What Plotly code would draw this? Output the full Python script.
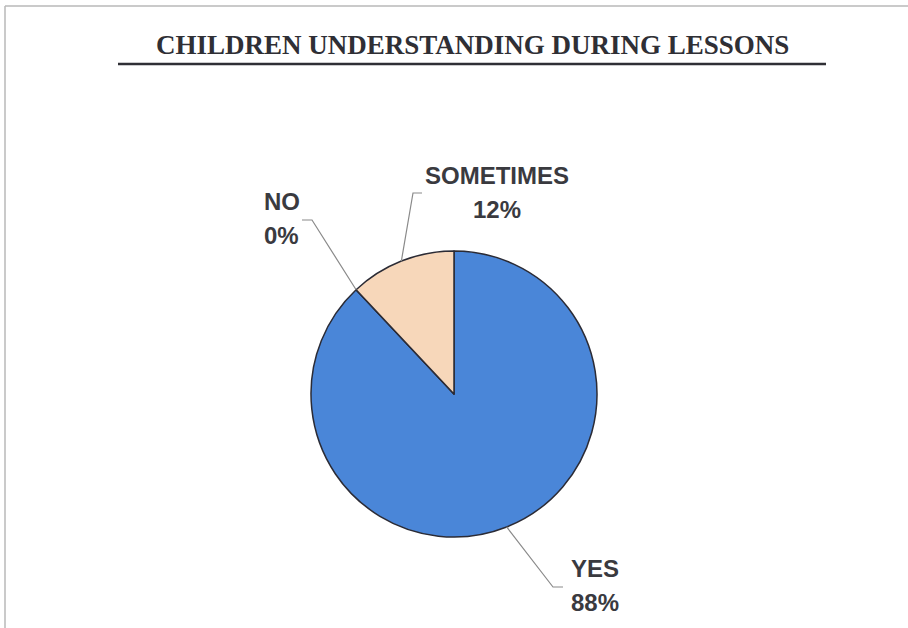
import math
import plotly.graph_objects as go

# Survey responses
categories = ["YES", "NO", "SOMETIMES"]
values = [88, 0, 12]
percent_text = ["88%", "0%", "12%"]
colors = ["#4a86d8", "#4a86d8", "#f7d7ba"]

W, H = 908, 628
cx, cy, r = 454, 394, 143  # pie centre / radius in pixels

fig = go.Figure()
fig.add_trace(go.Pie(
    labels=categories,
    values=values,
    sort=False,
    direction="clockwise",
    rotation=0,
    textinfo="none",
    hoverinfo="label+percent",
    showlegend=False,
    marker=dict(colors=colors, line=dict(color="#2b2b35", width=1.5)),
    domain=dict(x=[(cx - r) / W, (cx + r) / W],
                y=[(H - cy - r) / H, (H - cy + r) / H]),
))

# Angle (clockwise from 12 o'clock) at the middle of each slice
total = sum(values)
mid_angles = []
acc = 0
for v in values:
    mid_angles.append((acc + v / 2) / total * 2 * math.pi)
    acc += v


def edge_point(a):
    return cx + r * math.sin(a), cy - r * math.cos(a)


# Label placement: elbow of leader, end of leader, first-line anchor, alignment
label_layout = {
    "YES": dict(elbow=(553, 587), end=(563, 587), text=(569, 568), xanchor="left"),
    "NO": dict(elbow=(312, 220), end=(302, 220), text=(262, 201), xanchor="left"),
    "SOMETIMES": dict(elbow=(413, 193), end=(422, 193), text=(497, 175), xanchor="center"),
}
line_gap = 34

label_font = dict(family="Liberation Sans, Arial", size=24, color="#3a3a3f")

shapes = []
annotations = []
for cat, pct, a in zip(categories, percent_text, mid_angles):
    lay = label_layout[cat]
    ex, ey = edge_point(a)
    (bx, by), (tx, ty) = lay["elbow"], lay["end"]
    shapes.append(dict(type="path", xref="x", yref="y",
                       path=f"M{ex},{ey} L{bx},{by} L{tx},{ty}",
                       line=dict(color="#8a8a8a", width=1.2)))
    for k, txt in enumerate([cat, pct]):
        annotations.append(dict(
            x=lay["text"][0], y=lay["text"][1] + k * line_gap, xref="x", yref="y",
            text=f"<b>{txt}</b>", showarrow=False,
            xanchor=lay["xanchor"], yanchor="middle",
            font=label_font,
        ))

# Title and its rule
annotations.append(dict(
    x=472, y=45, xref="x", yref="y",
    text="<b>CHILDREN UNDERSTANDING DURING LESSONS</b>", showarrow=False,
    xanchor="center", yanchor="middle",
    font=dict(family="Liberation Serif, Times New Roman", size=27, color="#2f2f35"),
))
shapes.append(dict(type="line", xref="x", yref="y", x0=118, x1=826, y0=64, y1=64,
                   line=dict(color="#2f2f35", width=2.5)))

# Frame around the chart area
shapes.append(dict(type="line", xref="x", yref="y", x0=5, x1=W, y0=6, y1=6,
                   line=dict(color="#b8b8b8", width=1.5)))
shapes.append(dict(type="line", xref="x", yref="y", x0=5, x1=5, y0=6, y1=H,
                   line=dict(color="#b8b8b8", width=1.5)))

fig.update_layout(
    width=W, height=H,
    margin=dict(l=0, r=0, t=0, b=0),
    paper_bgcolor="white", plot_bgcolor="rgba(0,0,0,0)",
    xaxis=dict(range=[0, W], visible=False, fixedrange=True),
    yaxis=dict(range=[H, 0], visible=False, fixedrange=True),
    shapes=shapes, annotations=annotations,
)

fig.write_html("out.html")
